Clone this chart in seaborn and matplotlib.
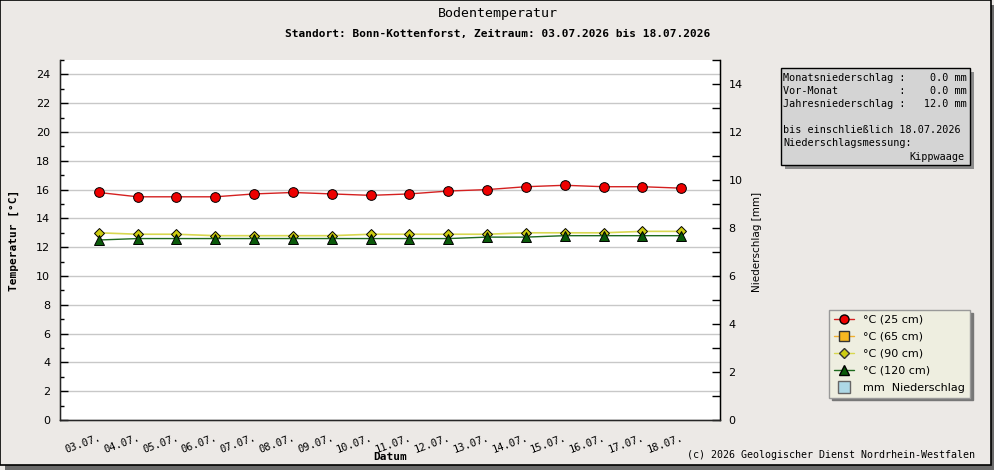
import numpy as np
import pandas as pd
import matplotlib
matplotlib.use("Agg")
import matplotlib.pyplot as plt
import seaborn as sns
from matplotlib.patches import Rectangle
from matplotlib.lines import Line2D
from matplotlib.ticker import MultipleLocator

# -----------------------------------
# Data
# -----------------------------------
dates = ["03.07.", "04.07.", "05.07.", "06.07.", "07.07.", "08.07.", "09.07.", "10.07.",
         "11.07.", "12.07.", "13.07.", "14.07.", "15.07.", "16.07.", "17.07.", "18.07."]

t25 = [15.8, 15.5, 15.5, 15.5, 15.7, 15.8, 15.7, 15.6, 15.7, 15.9, 16.0, 16.2, 16.3, 16.2, 16.2, 16.1]
t90 = [13.0, 12.9, 12.9, 12.8, 12.8, 12.8, 12.8, 12.9, 12.9, 12.9, 12.9, 13.0, 13.0, 13.0, 13.1, 13.1]
t120 = [12.5, 12.6, 12.6, 12.6, 12.6, 12.6, 12.6, 12.6, 12.6, 12.6, 12.7, 12.7, 12.8, 12.8, 12.8, 12.8]
niederschlag = [0.0] * 16

info_lines = [
    "Monatsniederschlag :    0.0 mm",
    "Vor-Monat          :    0.0 mm",
    "Jahresniederschlag :   12.0 mm",
    "",
    "bis einschließlich 18.07.2026",
    "Niederschlagsmessung:",
]

df = pd.DataFrame({"tag": np.arange(len(dates)), "t25": t25, "t90": t90, "t120": t120})

# -----------------------------------
# Style
# -----------------------------------
sns.set_style("white")
plt.rcParams["font.family"] = ["DejaVu Sans"]
plt.rcParams["text.color"] = "black"
plt.rcParams["axes.labelcolor"] = "black"
plt.rcParams["xtick.color"] = "black"
plt.rcParams["ytick.color"] = "black"

W, H = 995, 470
bg = "#ECE9E6"
mono = "DejaVu Sans Mono"

fig = plt.figure(figsize=(W / 100, H / 100), dpi=100, facecolor=bg)


def fx(px):
    return px / W


def fy(py):
    return 1 - py / H


# frame with shadow
fig.add_artist(Rectangle((fx(5), 0), fx(990), fy(5), transform=fig.transFigure,
                         facecolor="#6A6A6A", edgecolor="none", zorder=-3))
fig.add_artist(Rectangle((0, fy(465)), fx(991), 1 - fy(465), transform=fig.transFigure,
                         facecolor=bg, edgecolor="black", lw=1.2, zorder=-2))

ax = fig.add_axes([fx(60), fy(420), fx(660), fy(60) - fy(420)])
ax.set_facecolor("white")

sns.lineplot(data=df, x="tag", y="t25", ax=ax, color="#D42020", lw=1,
             marker="o", markersize=7, markerfacecolor="#EE0000",
             markeredgecolor="black", markeredgewidth=0.7, zorder=5)
sns.lineplot(data=df, x="tag", y="t90", ax=ax, color="#D8D850", lw=1.2,
             marker="D", markersize=5.5, markerfacecolor="#CCCC11",
             markeredgecolor="black", markeredgewidth=0.7, zorder=4)
sns.lineplot(data=df, x="tag", y="t120", ax=ax, color="#1E6A1E", lw=1,
             marker="^", markersize=7, markerfacecolor="#0A5A0A",
             markeredgecolor="black", markeredgewidth=0.7, zorder=4)

ax.set_xlim(-1, 16)
ax.set_ylim(0, 25)
ax.yaxis.set_major_locator(MultipleLocator(2))
ax.yaxis.set_minor_locator(MultipleLocator(1))
ax.grid(axis="y", which="major", color="#C8C8C8", lw=1)
ax.set_axisbelow(True)
ax.set_xticks(df["tag"])
ax.set_xticklabels(dates, rotation=20, ha="right", rotation_mode="anchor",
                   family=mono, fontsize=7.5)
ax.tick_params(axis="x", direction="in", length=6, width=1, pad=9, color="black")
ax.tick_params(axis="y", which="major", direction="in", length=6, width=1,
               labelsize=8, color="black", pad=7)
ax.tick_params(axis="y", which="minor", direction="in", length=3, width=1, color="black")
ax.set_xlabel("")
ax.set_ylabel("")
for s in ["left", "bottom", "right"]:
    ax.spines[s].set_color("black")
    ax.spines[s].set_linewidth(1)
ax.spines["top"].set_visible(False)

# precipitation on right axis
ax2 = ax.twinx()
ax2.bar(df["tag"], niederschlag, width=0.6, color="#ADD8E6", edgecolor="none")
ax2.set_ylim(0, 15)
ax2.yaxis.set_major_locator(MultipleLocator(2))
ax2.yaxis.set_minor_locator(MultipleLocator(1))
ax2.tick_params(axis="y", which="major", direction="in", length=6, width=1,
                labelsize=8, pad=6)
ax2.tick_params(axis="y", which="minor", direction="in", length=6, width=1)
ax2.spines["top"].set_visible(False)
ax2.spines["right"].set_color("black")

# -----------------------------------
# Texts
# -----------------------------------
fig.text(fx(498), fy(14), "Bodentemperatur", family=mono, fontsize=9.5,
         ha="center", va="center")
fig.text(fx(498), fy(34), "Standort: Bonn-Kottenforst, Zeitraum: 03.07.2026 bis 18.07.2026",
         family=mono, fontsize=8, weight="bold", ha="center", va="center")
fig.text(fx(14), fy(240), "Temperatur [°C]", family=mono, fontsize=8, weight="bold",
         rotation=90, ha="center", va="center")
fig.text(fx(757), fy(242), "Niederschlag [mm]", fontsize=7.5,
         rotation=90, ha="center", va="center")
fig.text(fx(390), fy(457), "Datum", family=mono, fontsize=8, weight="bold",
         ha="center", va="center")
fig.text(fx(975), fy(455), "(c) 2026 Geologischer Dienst Nordrhein-Westfalen",
         family=mono, fontsize=7.2, ha="right", va="center")

# info box
fig.add_artist(Rectangle((fx(785), fy(169)), fx(189), fy(72) - fy(169),
                         transform=fig.transFigure, facecolor="#8C8C8C",
                         edgecolor="none", zorder=1))
fig.add_artist(Rectangle((fx(781), fy(165)), fx(189), fy(68) - fy(165),
                         transform=fig.transFigure, facecolor="#D4D4D4",
                         edgecolor="black", lw=1, zorder=2))
for i, line in enumerate(info_lines):
    fig.text(fx(783), fy(78 + i * 13), line, family=mono, fontsize=7.25,
             ha="left", va="center", zorder=3)
fig.text(fx(965), fy(157), "Kippwaage", family=mono, fontsize=7.25,
         ha="right", va="center", zorder=3)

# legend
handles = [
    Line2D([], [], color="#D42020", marker="o", markerfacecolor="#EE0000",
           markeredgecolor="black", markersize=6.5, lw=1),
    Line2D([], [], color="#F0B030", marker="s", markerfacecolor="#F8B820",
           markeredgecolor="#333333", markersize=6.5, lw=1),
    Line2D([], [], color="#D8D850", marker="D", markerfacecolor="#CCCC11",
           markeredgecolor="#333333", markersize=5, lw=1),
    Line2D([], [], color="#1E6A1E", marker="^", markerfacecolor="#0A5A0A",
           markeredgecolor="black", markersize=6.5, lw=1),
    Line2D([], [], color="none", marker="s", markerfacecolor="#ADD8E6",
           markeredgecolor="#666666", markersize=8, lw=0),
]
labels = ["°C (25 cm)", "°C (65 cm)", "°C (90 cm)", "°C (120 cm)", "mm  Niederschlag"]
leg = fig.legend(handles, labels, loc="upper left",
                 bbox_to_anchor=(fx(829), fy(310)), frameon=True, fancybox=False,
                 shadow={"color": "#777777", "alpha": 1}, fontsize=8,
                 handlelength=1.8, handletextpad=0.8, labelspacing=0.62,
                 borderpad=0.45, borderaxespad=0)
leg.get_frame().set_facecolor("#EEEEE0")
leg.get_frame().set_edgecolor("#999999")
leg.get_frame().set_linewidth(1)

fig.savefig("out.png", dpi=100, facecolor=bg)
